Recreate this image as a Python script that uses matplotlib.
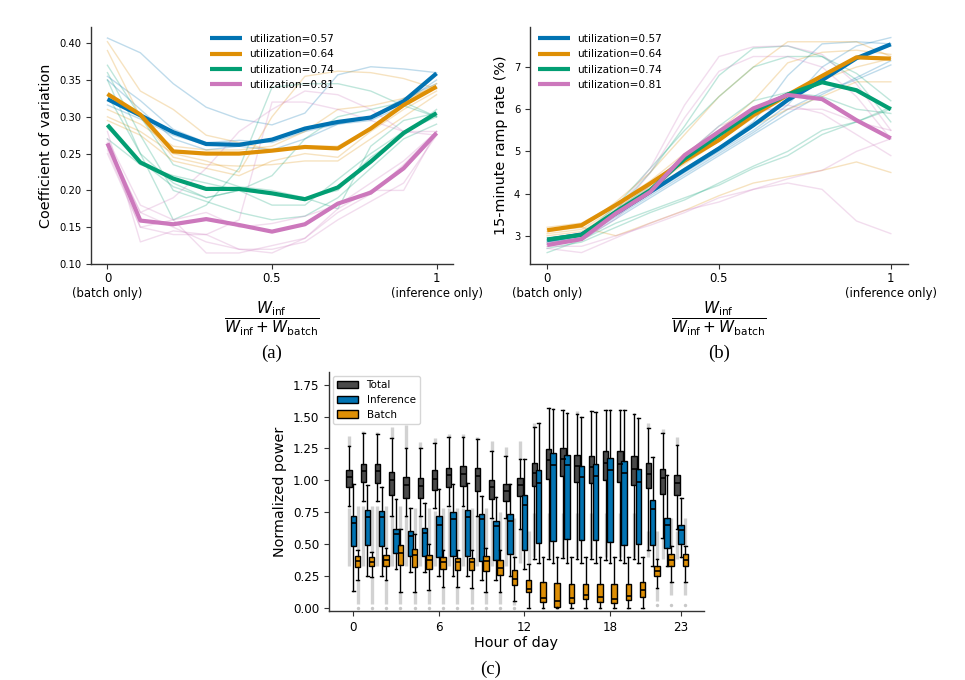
import matplotlib
matplotlib.use('Agg')
import matplotlib.pyplot as plt
from matplotlib.patches import Patch

# ---------------- colours ----------------
C_BLUE = '#0173b2'; C_ORANGE = '#de8f05'; C_GREEN = '#029e73'; C_PINK = '#cc78bc'
C_TOTAL = '#4a4a4a'; C_GRAY = '#d2d2d2'
util_labels = ['utilization=0.57', 'utilization=0.64', 'utilization=0.74', 'utilization=0.81']
util_colors = [C_BLUE, C_ORANGE, C_GREEN, C_PINK]

# ---------------- data: panel (a) ----------------
share = [0.0, 0.1, 0.2, 0.3, 0.4, 0.5, 0.6, 0.7, 0.8, 0.9, 1.0]
cov_057 = [0.324, 0.302, 0.279, 0.263, 0.262, 0.269, 0.284, 0.293, 0.299, 0.321, 0.359]
cov_064 = [0.331, 0.303, 0.253, 0.250, 0.250, 0.254, 0.259, 0.257, 0.284, 0.316, 0.341]
cov_074 = [0.289, 0.238, 0.216, 0.202, 0.202, 0.196, 0.188, 0.204, 0.239, 0.278, 0.305]
cov_081 = [0.264, 0.159, 0.154, 0.161, 0.153, 0.144, 0.154, 0.182, 0.197, 0.230, 0.278]
cov_runs_057 = [
    [0.407, 0.387, 0.345, 0.313, 0.297, 0.289, 0.305, 0.357, 0.368, 0.365, 0.360],
    [0.355, 0.322, 0.283, 0.265, 0.268, 0.265, 0.280, 0.290, 0.300, 0.320, 0.350],
    [0.316, 0.297, 0.275, 0.262, 0.260, 0.270, 0.285, 0.292, 0.300, 0.325, 0.345],
    [0.350, 0.310, 0.270, 0.255, 0.260, 0.255, 0.270, 0.290, 0.295, 0.315, 0.340],
]
cov_runs_064 = [
    [0.402, 0.335, 0.310, 0.275, 0.265, 0.255, 0.260, 0.260, 0.285, 0.320, 0.345],
    [0.300, 0.280, 0.250, 0.240, 0.225, 0.300, 0.355, 0.362, 0.360, 0.352, 0.338],
    [0.390, 0.300, 0.245, 0.235, 0.233, 0.235, 0.240, 0.240, 0.270, 0.300, 0.330],
    [0.295, 0.275, 0.240, 0.230, 0.220, 0.240, 0.250, 0.245, 0.280, 0.310, 0.335],
    [0.310, 0.290, 0.260, 0.255, 0.255, 0.260, 0.280, 0.310, 0.315, 0.325, 0.340],
]
cov_runs_074 = [
    [0.370, 0.300, 0.235, 0.220, 0.205, 0.200, 0.190, 0.175, 0.260, 0.295, 0.305],
    [0.350, 0.250, 0.160, 0.180, 0.230, 0.340, 0.345, 0.345, 0.335, 0.315, 0.300],
    [0.270, 0.235, 0.220, 0.210, 0.200, 0.195, 0.190, 0.200, 0.245, 0.275, 0.310],
    [0.285, 0.240, 0.205, 0.190, 0.200, 0.220, 0.270, 0.300, 0.310, 0.320, 0.300],
    [0.360, 0.275, 0.200, 0.185, 0.170, 0.160, 0.165, 0.190, 0.230, 0.270, 0.290],
    [0.330, 0.250, 0.210, 0.190, 0.200, 0.180, 0.180, 0.215, 0.250, 0.280, 0.300],
]
cov_runs_081 = [
    [0.280, 0.130, 0.145, 0.140, 0.120, 0.120, 0.130, 0.160, 0.185, 0.210, 0.275],
    [0.260, 0.170, 0.150, 0.130, 0.120, 0.115, 0.135, 0.170, 0.195, 0.235, 0.280],
    [0.250, 0.150, 0.140, 0.140, 0.160, 0.320, 0.320, 0.310, 0.295, 0.280, 0.280],
    [0.270, 0.180, 0.160, 0.115, 0.115, 0.125, 0.135, 0.175, 0.200, 0.200, 0.280],
    [0.265, 0.170, 0.190, 0.230, 0.280, 0.310, 0.335, 0.330, 0.310, 0.280, 0.275],
    [0.255, 0.150, 0.160, 0.170, 0.150, 0.155, 0.165, 0.180, 0.210, 0.240, 0.280],
]

# ---------------- data: panel (b) ----------------
ramp_057 = [2.90, 3.03, 3.53, 4.04, 4.56, 5.07, 5.62, 6.22, 6.69, 7.21, 7.54]
ramp_064 = [3.13, 3.25, 3.73, 4.24, 4.78, 5.27, 5.86, 6.34, 6.79, 7.23, 7.20]
ramp_074 = [2.91, 3.02, 3.57, 4.08, 4.83, 5.39, 5.94, 6.35, 6.64, 6.45, 6.00]
ramp_081 = [2.78, 2.92, 3.53, 4.04, 4.91, 5.47, 6.02, 6.34, 6.24, 5.74, 5.31]
ramp_runs_057 = [
    [2.90, 3.00, 3.50, 4.00, 4.50, 5.00, 5.50, 6.10, 7.00, 7.50, 7.70],
    [2.85, 2.95, 3.45, 3.95, 4.45, 4.95, 5.45, 6.00, 6.40, 6.70, 7.05],
    [2.95, 3.05, 3.55, 4.05, 4.60, 5.10, 5.70, 6.80, 7.55, 7.60, 7.55],
    [2.80, 2.90, 3.40, 3.90, 4.40, 4.90, 5.40, 5.90, 6.35, 6.75, 7.15],
]
ramp_runs_064 = [
    [3.10, 3.20, 3.00, 3.30, 3.60, 3.95, 4.25, 4.40, 4.55, 4.75, 4.50],
    [3.15, 3.20, 3.80, 4.50, 5.40, 6.30, 7.00, 7.60, 7.60, 7.60, 7.25],
    [3.20, 3.30, 3.75, 4.30, 4.95, 5.50, 6.20, 7.10, 7.35, 7.40, 7.30],
    [3.00, 3.10, 3.60, 4.10, 4.60, 5.10, 5.60, 6.00, 6.30, 6.65, 6.65],
    [3.05, 3.15, 3.65, 4.15, 4.70, 5.25, 5.80, 6.30, 6.70, 7.00, 7.20],
]
ramp_runs_074 = [
    [2.60, 2.90, 3.30, 3.60, 3.90, 4.20, 4.60, 4.90, 5.40, 5.70, 6.00],
    [2.70, 2.85, 3.20, 3.55, 3.85, 4.25, 4.65, 5.00, 5.50, 5.70, 6.05],
    [2.85, 2.95, 3.60, 4.50, 5.60, 6.80, 7.45, 7.50, 7.25, 6.70, 5.70],
    [2.90, 3.00, 3.70, 4.60, 5.50, 6.30, 7.00, 7.25, 7.25, 6.85, 6.20],
    [2.90, 3.05, 3.60, 4.20, 4.90, 5.60, 6.20, 6.40, 6.30, 6.00, 5.90],
]
ramp_runs_081 = [
    [2.75, 2.90, 3.60, 4.60, 6.10, 7.25, 7.48, 7.50, 7.30, 6.60, 5.50],
    [2.80, 2.95, 3.50, 4.50, 5.80, 6.90, 7.25, 7.25, 7.00, 6.30, 5.30],
    [2.70, 2.60, 2.95, 3.30, 3.60, 3.80, 4.10, 4.25, 4.10, 3.35, 3.05],
    [2.75, 2.75, 3.00, 3.25, 3.55, 3.90, 4.10, 4.35, 4.55, 5.00, 5.30],
    [2.80, 2.90, 3.40, 4.20, 4.90, 5.60, 5.90, 6.10, 5.90, 5.40, 4.90],
    [2.85, 2.90, 3.50, 4.10, 4.80, 5.40, 6.00, 6.00, 6.00, 5.70, 5.50],
]

# ---------------- data: panel (c) ----------------
hours = list(range(24))
total_q1  = [0.944, 0.986, 0.980, 0.881, 0.863, 0.863, 0.926, 0.947, 0.952, 0.913, 0.855, 0.834,
             0.880, 0.952, 1.012, 1.030, 0.986, 0.980, 0.999, 0.986, 0.960, 0.939, 0.894, 0.881]
total_med = [1.025, 1.070, 1.070, 1.004, 0.965, 0.957, 1.012, 1.043, 1.051, 1.030, 0.944, 0.913,
             0.960, 1.056, 1.156, 1.169, 1.109, 1.104, 1.135, 1.130, 1.090, 1.051, 1.017, 0.978]
total_q3  = [1.083, 1.125, 1.130, 1.064, 1.025, 1.020, 1.077, 1.098, 1.114, 1.098, 1.004, 0.968,
             1.020, 1.138, 1.247, 1.255, 1.195, 1.190, 1.226, 1.226, 1.190, 1.135, 1.090, 1.043]
total_lo  = [0.80, 0.84, 0.84, 0.72, 0.72, 0.72, 0.78, 0.80, 0.80, 0.72, 0.70, 0.70,
             0.62, 0.38, 0.38, 0.39, 0.38, 0.38, 0.37, 0.37, 0.38, 0.45, 0.55, 0.62]
total_hi  = [1.27, 1.37, 1.36, 1.33, 1.25, 1.25, 1.29, 1.34, 1.34, 1.32, 1.23, 1.19,
             1.17, 1.42, 1.57, 1.55, 1.52, 1.54, 1.55, 1.55, 1.52, 1.41, 1.37, 1.28]
total_fly_top = [1.35, 1.39, 1.38, 1.42, 1.43, 1.30, 1.33, 1.36, 1.36, 1.34, 1.31, 1.26,
                 1.31, 1.45, 1.57, 1.55, 1.54, 1.54, 1.55, 1.55, 1.52, 1.45, 1.40, 1.34]
total_fly_bot = [0.33, 0.33, 0.33, 0.33, 0.33, 0.33, 0.33, 0.33, 0.33, 0.33, 0.33, 0.33,
                 0.35, 0.40, 0.40, 0.40, 0.40, 0.40, 0.40, 0.40, 0.40, 0.40, 0.38, 0.38]
total_fly_hi  = [0.78, 0.80, 0.80, 0.72, 0.72, 0.72, 0.76, 0.78, 0.78, 0.72, 0.70, 0.70,
                 0.62, 0.74, 0.74, 0.74, 0.74, 0.74, 0.74, 0.74, 0.74, 0.60, 0.55, 0.60]

inf_q1  = [0.484, 0.494, 0.481, 0.429, 0.403, 0.405, 0.397, 0.403, 0.403, 0.366, 0.377, 0.424,
           0.455, 0.507, 0.523, 0.541, 0.528, 0.528, 0.513, 0.494, 0.502, 0.489, 0.468, 0.502]
inf_med = [0.664, 0.711, 0.711, 0.575, 0.562, 0.586, 0.651, 0.698, 0.711, 0.693, 0.638, 0.677,
           0.803, 0.981, 1.122, 1.117, 1.025, 1.036, 1.077, 1.056, 0.983, 0.777, 0.646, 0.607]
inf_q3  = [0.722, 0.764, 0.758, 0.620, 0.601, 0.628, 0.717, 0.750, 0.764, 0.737, 0.680, 0.737,
           0.881, 1.077, 1.213, 1.200, 1.109, 1.124, 1.174, 1.148, 1.085, 0.847, 0.706, 0.651]
inf_lo  = [0.13, 0.25, 0.25, 0.30, 0.28, 0.28, 0.25, 0.25, 0.25, 0.22, 0.22, 0.25,
           0.30, 0.35, 0.35, 0.35, 0.35, 0.35, 0.35, 0.35, 0.35, 0.33, 0.33, 0.40]
inf_hi  = [0.97, 0.96, 0.95, 0.85, 0.78, 0.82, 0.93, 0.97, 0.98, 0.88, 0.87, 0.97,
           1.17, 1.45, 1.56, 1.53, 1.50, 1.535, 1.55, 1.55, 1.49, 1.18, 1.04, 0.86]

batch_q1  = [0.319, 0.324, 0.324, 0.332, 0.319, 0.306, 0.301, 0.298, 0.293, 0.285, 0.259, 0.180,
             0.123, 0.044, 0.005, 0.039, 0.065, 0.044, 0.037, 0.063, 0.084, 0.246, 0.327, 0.324]
batch_med = [0.363, 0.361, 0.377, 0.429, 0.411, 0.371, 0.358, 0.358, 0.358, 0.363, 0.314, 0.228,
             0.149, 0.078, 0.050, 0.078, 0.102, 0.084, 0.071, 0.092, 0.136, 0.285, 0.371, 0.377]
batch_q3  = [0.405, 0.397, 0.416, 0.489, 0.463, 0.416, 0.397, 0.392, 0.392, 0.403, 0.371, 0.293,
             0.214, 0.201, 0.194, 0.183, 0.183, 0.183, 0.188, 0.188, 0.201, 0.327, 0.418, 0.424]
batch_lo  = [0.22, 0.24, 0.22, 0.12, 0.12, 0.14, 0.16, 0.16, 0.15, 0.12, 0.12, 0.05,
             0.00, 0.00, 0.00, 0.00, 0.00, 0.00, 0.00, 0.00, 0.00, 0.15, 0.20, 0.20]
batch_hi  = [0.45, 0.44, 0.47, 0.62, 0.58, 0.50, 0.45, 0.45, 0.45, 0.47, 0.45, 0.40,
             0.34, 0.40, 0.40, 0.40, 0.40, 0.40, 0.40, 0.40, 0.40, 0.38, 0.48, 0.48]
batch_fly_bot = [0.03, 0.03, 0.03, 0.03, 0.03, 0.03, 0.03, 0.03, 0.03, 0.03, 0.03, 0.02,
                 0.00, 0.00, 0.00, 0.00, 0.00, 0.00, 0.00, 0.00, 0.00, 0.05, 0.10, 0.10]
batch_fly_top = [0.80, 0.80, 0.80, 0.80, 0.78, 0.78, 0.78, 0.78, 0.78, 0.78, 0.75, 0.70,
                 0.60, 0.40, 0.40, 0.40, 0.40, 0.40, 0.40, 0.40, 0.40, 0.60, 0.70, 0.70]
batch_zero_flier = [0.0] * 12 + [None] * 9 + [0.02, 0.02, 0.02]

# ---------------- figure ----------------
plt.rcParams['font.family'] = ['DejaVu Sans']
fig = plt.figure(figsize=(9.65, 6.8), dpi=100)
W, H = 965.0, 680.0


def ax_px(left, top, right, bottom):
    return fig.add_axes([left / W, 1 - bottom / H, (right - left) / W, (bottom - top) / H])


def style_axes(ax):
    for s in ['top', 'right']:
        ax.spines[s].set_visible(False)
    for s in ['left', 'bottom']:
        ax.spines[s].set_color('#333333')
        ax.spines[s].set_linewidth(1.0)
    ax.tick_params(length=3.5, width=0.8, color='#333333')


frac = r'$\dfrac{W_{\mathrm{inf}}}{W_{\mathrm{inf}}+W_{\mathrm{batch}}}$'
xt_labels = ['0\n(batch only)', '0.5', '1\n(inference only)']


def line_panel(ax, runs_list, means_list, legend_x):
    for runs, col in zip(runs_list, util_colors):
        for r in runs:
            ax.plot(share, r, color=col, lw=1.0, alpha=0.25)
    for m, col, lab in zip(means_list, util_colors, util_labels):
        ax.plot(share, m, color=col, lw=3.0, label=lab, solid_capstyle='butt')
    ax.set_xlim(-0.05, 1.05)
    ax.set_xticks([0, 0.5, 1])
    ax.set_xticklabels(xt_labels)
    style_axes(ax)
    ax.tick_params(axis='y', labelsize=7.2)
    ax.tick_params(axis='x', labelsize=8.4, pad=2.5)
    ax.legend(loc='upper left', bbox_to_anchor=(legend_x / W, 1 - 34 / H), bbox_transform=fig.transFigure,
              frameon=False, fontsize=7.6, handlelength=3.0, handletextpad=0.75, labelspacing=0.5,
              borderpad=0, borderaxespad=0)


# ---- panel (a)
axa = ax_px(91, 27, 453, 264)
line_panel(axa, [cov_runs_057, cov_runs_064, cov_runs_074, cov_runs_081],
           [cov_057, cov_064, cov_074, cov_081], 210)
axa.set_ylim(0.10, 0.422)
axa.set_yticks([0.10, 0.15, 0.20, 0.25, 0.30, 0.35, 0.40])
axa.set_yticklabels(['0.10', '0.15', '0.20', '0.25', '0.30', '0.35', '0.40'])
axa.set_ylabel('Coefficient of variation', fontsize=10.4)
fig.text(272 / W, 1 - 319 / H, frac, ha='center', va='center', fontsize=11)
fig.text(272 / W, 1 - 353 / H, '(a)', ha='center', va='center', fontsize=13.5, family='Liberation Serif')

# ---- panel (b)
axb = ax_px(530, 27, 908, 264)
line_panel(axb, [ramp_runs_057, ramp_runs_064, ramp_runs_074, ramp_runs_081],
           [ramp_057, ramp_064, ramp_074, ramp_081], 538)
axb.set_ylim(2.33, 7.95)
axb.set_yticks([3, 4, 5, 6, 7])
axb.set_ylabel('15-minute ramp rate (%)', fontsize=10.4)
fig.text(719 / W, 1 - 319 / H, frac, ha='center', va='center', fontsize=11)
fig.text(719 / W, 1 - 353 / H, '(b)', ha='center', va='center', fontsize=13.5, family='Liberation Serif')

# ---- panel (c)
axc = ax_px(329, 372, 704, 611)
off = 0.3
bw = 0.38
pos_t = [h - off for h in hours]
pos_i = [h for h in hours]
pos_b = [h + off for h in hours]

# gray flier bands
axc.vlines(pos_t, total_hi, total_fly_top, color=C_GRAY, lw=2.4, zorder=1)
axc.vlines(pos_t, total_fly_bot, total_fly_hi, color=C_GRAY, lw=2.4, zorder=1)
axc.vlines(pos_b, batch_fly_bot, batch_lo, color=C_GRAY, lw=2.4, zorder=1)
axc.vlines(pos_b, batch_hi, batch_fly_top, color=C_GRAY, lw=2.4, zorder=1)
zx = [p for p, v in zip(pos_b, batch_zero_flier) if v is not None]
zy = [v for v in batch_zero_flier if v is not None]
axc.scatter(zx, zy, s=6, color='#c8c8c8', zorder=1, linewidths=0)


def stats(q1, med, q3, lo, hi):
    return [dict(q1=a, med=b, q3=c, whislo=d, whishi=e, fliers=[]) for a, b, c, d, e in zip(q1, med, q3, lo, hi)]


for st, pos, col in [(stats(total_q1, total_med, total_q3, total_lo, total_hi), pos_t, C_TOTAL),
                     (stats(inf_q1, inf_med, inf_q3, inf_lo, inf_hi), pos_i, C_BLUE),
                     (stats(batch_q1, batch_med, batch_q3, batch_lo, batch_hi), pos_b, C_ORANGE)]:
    axc.bxp(st, positions=pos, widths=bw, patch_artist=True, showfliers=False, manage_ticks=False,
            boxprops=dict(facecolor=col, edgecolor='black', linewidth=1.0),
            medianprops=dict(color='black', linewidth=1.2),
            whiskerprops=dict(color='black', linewidth=1.0),
            capprops=dict(color='black', linewidth=1.0), capwidths=bw * 0.5)

axc.set_xlim(-1.7, 24.6)
axc.set_ylim(-0.027, 1.85)
axc.set_xticks([0, 6, 12, 18, 23])
axc.set_yticks([0, 0.25, 0.5, 0.75, 1.0, 1.25, 1.5, 1.75])
axc.set_yticklabels(['0.00', '0.25', '0.50', '0.75', '1.00', '1.25', '1.50', '1.75'])
style_axes(axc)
axc.tick_params(labelsize=8.6)
axc.set_xlabel('Hour of day', fontsize=10.4, labelpad=2)
axc.set_ylabel('Normalized power', fontsize=10.4)
handles = [Patch(facecolor=C_TOTAL, edgecolor='black', label='Total'),
           Patch(facecolor=C_BLUE, edgecolor='black', label='Inference'),
           Patch(facecolor=C_ORANGE, edgecolor='black', label='Batch')]
axc.legend(handles=handles, loc='upper left', fontsize=7.5, handlelength=2.0, labelspacing=0.45,
           borderaxespad=0.4)
fig.text(491 / W, 1 - 669 / H, '(c)', ha='center', va='center', fontsize=13.5, family='Liberation Serif')

fig.savefig('out.png', dpi=100)
